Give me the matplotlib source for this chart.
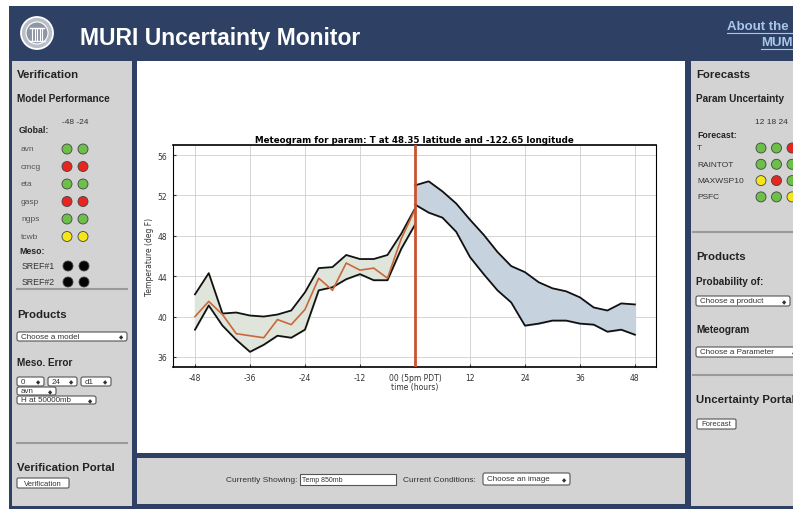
import matplotlib
matplotlib.use("Agg")
import matplotlib.pyplot as plt
from matplotlib.patches import Rectangle, FancyBboxPatch, Circle

# ---- meteogram data (hours, deg F) ----
hrs_past = [-48, -45, -42, -39, -36, -33, -30, -27, -24, -21, -18, -15, -12, -9, -6, -3, 0]
past_hi = [42.2, 44.3, 40.3, 40.4, 40.1, 40.0, 40.2, 40.6, 42.4, 44.8, 44.9, 46.1, 45.7, 45.7, 46.1, 48.2, 50.7]
past_lo = [38.7, 41.1, 39.1, 37.7, 36.5, 37.2, 38.1, 37.9, 38.7, 42.6, 42.9, 43.7, 44.2, 43.6, 43.6, 46.7, 49.1]
observed = [40.0, 41.5, 40.2, 38.3, 38.1, 37.9, 39.7, 39.2, 40.7, 43.8, 42.6, 45.3, 44.6, 44.8, 43.8, 47.7, 50.6]

hrs_fut = [0, 3, 6, 9, 12, 15, 18, 21, 24, 27, 30, 33, 36, 39, 42, 45, 48]
fut_hi = [53.0, 53.4, 52.4, 51.2, 49.6, 48.1, 46.4, 45.0, 44.4, 43.4, 42.8, 42.5, 41.9, 40.9, 40.6, 41.3, 41.2]
fut_lo = [51.1, 50.3, 49.8, 48.4, 45.9, 44.2, 42.6, 41.4, 39.1, 39.3, 39.6, 39.6, 39.3, 39.2, 38.5, 38.7, 38.2]

xticks = [-48, -36, -24, -12, 0, 12, 24, 36, 48]
xticklabels = ["-48", "-36", "-24", "-12", "00 (5pm PDT)", "12", "24", "36", "48"]
yticks = [36, 40, 44, 48, 52, 56]

# ---- sidebar data ----
global_models = ["avn", "cmcg", "eta", "gasp", "ngps", "tcwb"]
global_status = [["g", "g"], ["r", "r"], ["g", "g"], ["r", "r"], ["g", "g"], ["y", "y"]]
meso_models = ["SREF#1", "SREF#2"]
meso_status = [["k", "k"], ["k", "k"]]
fc_params = ["T", "RAINTOT", "MAXWSP10", "PSFC"]
fc_status = [["g", "g", "r"], ["g", "g", "g"], ["y", "r", "g"], ["g", "g", "y"]]

NAVY = "#2e4164"
GRAY = "#d3d3d3"
LIGHT = {"g": "#6cc04a", "r": "#e8261f", "y": "#f4e619", "k": "#050505"}
SANS = ["Liberation Sans", "DejaVu Sans"]

fig = plt.figure(figsize=(7.93, 5.10), dpi=100)
bg = fig.add_axes([0, 0, 1, 1])
bg.set_xlim(0, 793)
bg.set_ylim(510, 0)
bg.axis("off")


def box(x0, y0, x1, y1, color, **kw):
    bg.add_patch(Rectangle((x0, y0), x1 - x0, y1 - y0, facecolor=color, edgecolor="none", **kw))


def txt(x, y, s, size=6.5, bold=False, color="#222222", ha="left"):
    bg.text(x, y, s, fontsize=size, fontweight="bold" if bold else "normal", color=color,
            ha=ha, va="center", family=SANS)


def dropdown(x0, y0, x1, y1, label, size=5.8):
    bg.add_patch(FancyBboxPatch((x0, y0), x1 - x0, y1 - y0, boxstyle="round,pad=0,rounding_size=2",
                                facecolor="white", edgecolor="#555555", linewidth=0.8))
    txt(x0 + 4, (y0 + y1) / 2, label, size=size, color="#333333")
    txt(x1 - 4, (y0 + y1) / 2 + 0.5, "\u25c6", size=4, color="#333333", ha="right")


def light(x, y, c):
    bg.add_patch(Circle((x, y), 5, facecolor=LIGHT[c], edgecolor="#444444", linewidth=0.6))


# page frame
box(9, 7, 793, 510, NAVY)
box(12, 62, 132, 507, GRAY)
box(137, 62, 685, 454, "white")
box(137, 459, 685, 505, GRAY)
box(691, 62, 793, 507, GRAY)

# header seal
bg.add_patch(Circle((37, 34), 16, facecolor="#b9bec8", edgecolor="white", linewidth=1.3))
bg.add_patch(Circle((37, 34), 11, facecolor="#8e96a6", edgecolor="white", linewidth=0.8))
for dx in (-5, -2.5, 0, 2.5, 5):
    bg.plot([37 + dx, 37 + dx], [30, 41], color="white", linewidth=0.8)
bg.plot([30, 44], [29, 29], color="white", linewidth=1.0)
bg.plot([29, 45], [42, 42], color="white", linewidth=1.0)
txt(80, 38, "MURI Uncertainty Monitor", size=16.5, bold=True, color="white")
txt(727, 27, "About the", size=9.5, bold=True, color="#a9c7ee")
txt(761, 43, "MUM", size=9.5, bold=True, color="#a9c7ee")
bg.plot([727, 793], [33.5, 33.5], color="#a9c7ee", linewidth=0.8)
bg.plot([761, 793], [49.5, 49.5], color="#a9c7ee", linewidth=0.8)

# left panel
txt(17, 75, "Verification", size=8.2, bold=True)
txt(17, 99, "Model Performance", size=7.2, bold=True)
txt(62, 123, "-48 -24", size=6.0, color="#333333")
txt(19, 131, "Global:", size=6.3, bold=True)
for i, (name, st) in enumerate(zip(global_models, global_status)):
    y = 150 + i * 17.5
    txt(21, y, name, size=6.0, color="#555555")
    for j, c in enumerate(st):
        light(67 + j * 16, y, c)
txt(19, 252, "Meso:", size=6.3, bold=True)
for i, (name, st) in enumerate(zip(meso_models, meso_status)):
    y = 267 + i * 16
    txt(22, y, name, size=6.3, color="#333333")
    for j, c in enumerate(st):
        light(68 + j * 16, y, c)
bg.plot([17, 127], [290, 290], color="#9a9a9a", linewidth=1.5)

txt(17, 315, "Products", size=8.2, bold=True)
dropdown(17, 333, 127, 342, "Choose a model")
txt(17, 363, "Meso. Error", size=7.2, bold=True)
dropdown(17, 378, 44, 387, "0")
dropdown(48, 378, 77, 387, "24")
dropdown(81, 378, 111, 387, "d1")
dropdown(17, 388, 56, 396, "avn")
dropdown(17, 397, 96, 405, "H at 50000mb")
bg.plot([17, 127], [444, 444], color="#9a9a9a", linewidth=1.5)
txt(17, 468, "Verification Portal", size=8.2, bold=True)
bg.add_patch(FancyBboxPatch((17, 479), 52, 10, boxstyle="round,pad=0,rounding_size=1.5",
                            facecolor="white", edgecolor="#555555", linewidth=0.8))
txt(43, 484.5, "Verification", size=5.5, color="#333333", ha="center")

# right panel
txt(696, 75, "Forecasts", size=8.2, bold=True)
txt(696, 99, "Param Uncertainty", size=7.2, bold=True)
txt(755, 123, "12 18 24", size=6.0, color="#333333")
txt(697, 136, "Forecast:", size=6.3, bold=True)
for i, (name, st) in enumerate(zip(fc_params, fc_status)):
    y = 149 + i * 16.3
    txt(697, y, name, size=6.0, color="#333333")
    for j, c in enumerate(st):
        light(761 + j * 15.5, y, c)
bg.plot([693, 793], [233, 233], color="#9a9a9a", linewidth=1.5)
txt(696, 257, "Products", size=8.2, bold=True)
txt(696, 282, "Probability of:", size=7.2, bold=True)
dropdown(696, 297, 790, 307, "Choose a product")
txt(696, 330, "Meteogram", size=7.2, bold=True)
dropdown(696, 348, 800, 358, "Choose a Parameter")
bg.plot([693, 793], [376, 376], color="#9a9a9a", linewidth=1.5)
txt(696, 400, "Uncertainty Portal", size=8.2, bold=True)
bg.add_patch(FancyBboxPatch((697, 420), 39, 10, boxstyle="round,pad=0,rounding_size=1.5",
                            facecolor="white", edgecolor="#555555", linewidth=0.8))
txt(716.5, 425, "Forecast", size=5.5, color="#333333", ha="center")

# bottom bar
txt(298, 481, "Currently Showing:", size=6.0, color="#333333", ha="right")
bg.add_patch(Rectangle((300, 475), 96, 11, facecolor="white", edgecolor="#555555", linewidth=0.8))
txt(302, 480.5, "Temp 850mb", size=5.0, color="#333333")
txt(403, 481, "Current Conditions:", size=6.0, color="#333333")
dropdown(483, 474, 570, 486, "Choose an image")

# ---- meteogram axes ----
ax = fig.add_axes([173 / 793, 1 - 368 / 510, (656 - 173) / 793, (368 - 146) / 510])
ax.fill_between(hrs_past, past_lo, past_hi, color="#dfe5da", zorder=1)
ax.fill_between(hrs_fut, fut_lo, fut_hi, color="#c6d2de", zorder=1)
ax.plot(hrs_past, past_hi, color="#111111", linewidth=1.3, zorder=3)
ax.plot(hrs_past, past_lo, color="#111111", linewidth=1.3, zorder=3)
ax.plot(hrs_fut, fut_hi, color="#111111", linewidth=1.3, zorder=3)
ax.plot(hrs_fut, fut_lo, color="#111111", linewidth=1.3, zorder=3)
ax.plot(hrs_past, observed, color="#c8683a", linewidth=1.2, zorder=4)
ax.axvline(0, color="#c9532e", linewidth=2.0, zorder=5)

ax.set_xlim(-52.8, 52.6)
ax.set_ylim(35, 57)
ax.set_xticks(xticks)
ax.set_xticklabels(xticklabels)
ax.set_yticks(yticks)
ax.grid(True, color="#cfcfcf", linewidth=0.6)
ax.set_axisbelow(True)
ax.tick_params(labelsize=5.5, length=2.5, direction="in", colors="#333333", pad=4)
for lab in ax.get_xticklabels() + ax.get_yticklabels():
    lab.set_family("DejaVu Sans")
for side in ("top", "bottom"):
    ax.spines[side].set_linewidth(1.2)
for side in ("left", "right"):
    ax.spines[side].set_linewidth(0.8)
ax.set_title("Meteogram for param: T at 48.35 latitude and -122.65 longitude",
             fontsize=6.3, fontweight="bold", pad=2.5)
ax.set_xlabel("time (hours)", fontsize=5.5, labelpad=0.5, color="#333333")
ax.set_ylabel("Temperature (deg F)", fontsize=5.5, labelpad=3, color="#333333")

fig.savefig("out.png", dpi=100)
